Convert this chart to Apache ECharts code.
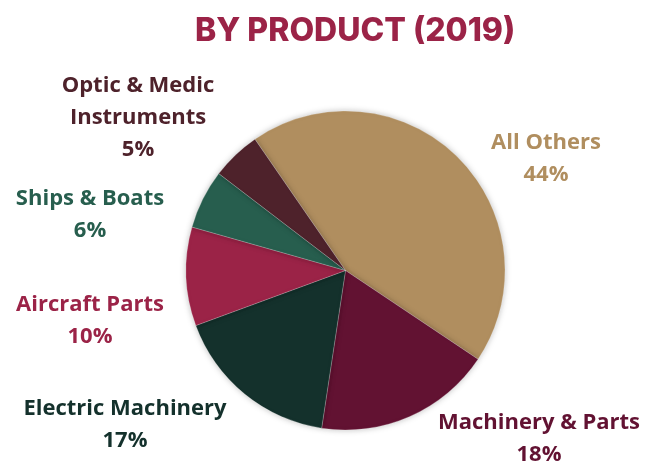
<!DOCTYPE html>
<html>
<head>
<meta charset="utf-8">
<script src="https://cdn.jsdelivr.net/npm/echarts@6/dist/echarts.min.js"></script>
<style>html,body{margin:0;padding:0;background:#fff;}#c{width:659px;height:466px;}</style>
</head>
<body>
<div id="c"></div>
<script>
const titleText = 'BY PRODUCT (2019)';
const categories = ['All Others', 'Machinery & Parts', 'Electric Machinery', 'Aircraft Parts', 'Ships & Boats', 'Optic & Medic\nInstruments'];
const values = [44, 18, 17, 10, 6, 5];
const colors = ['#B08E5F', '#621232', '#14312C', '#9B2347', '#275E4E', '#4E222B'];
const labelPos = [[546, 159], [539, 439], [125, 425], [90, 321], [90, 215], [138, 118]];

const chart = echarts.init(document.getElementById('c'), null, {renderer: 'canvas'});
chart.setOption({
  animation: false,
  backgroundColor: '#ffffff',
  title: {
    text: titleText,
    left: 190,
    top: 10,
    textStyle: {fontFamily: 'Inter', fontWeight: 800, fontSize: 32, color: '#9B2347'}
  },
  series: [{
    type: 'pie',
    center: [345.5, 270.5],
    radius: 159.5,
    startAngle: 124.6,
    clockwise: true,
    avoidLabelOverlap: false,
    data: categories.map((c, i) => ({
      name: c, value: values[i],
      itemStyle: {color: colors[i]},
      label: {color: colors[i]}
    })),
    itemStyle: {
      borderColor: 'rgba(255,255,255,0.35)',
      borderWidth: 0.6,
      shadowBlur: 6,
      shadowColor: 'rgba(0,0,0,0.25)'
    },
    label: {
      show: true,
      position: 'outside',
      formatter: p => p.name + '\n' + p.value + '%',
      fontFamily: 'Open Sans',
      fontWeight: 'bold',
      fontSize: 22,
      lineHeight: 32,
      align: 'center'
    },
    labelLine: {show: false},
    labelLayout: p => ({
      x: labelPos[p.dataIndex][0],
      y: labelPos[p.dataIndex][1],
      align: 'center',
      verticalAlign: 'middle'
    })
  }]
});
</script>
</body>
</html>
